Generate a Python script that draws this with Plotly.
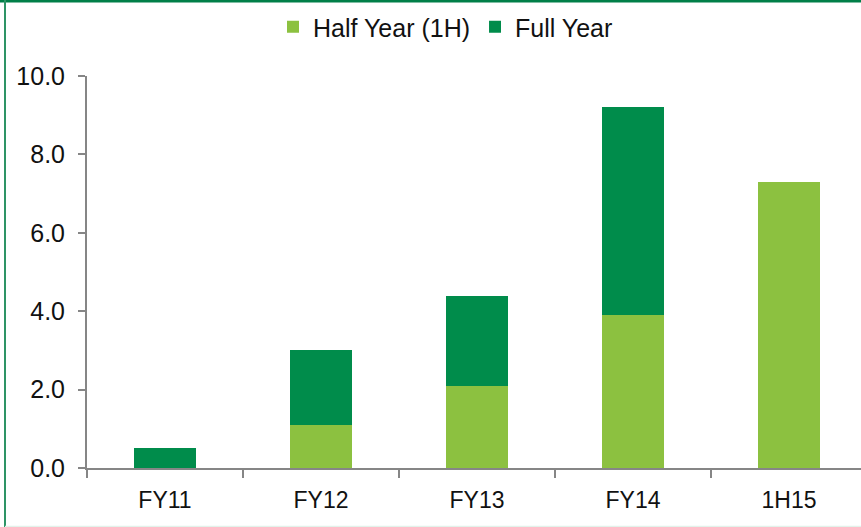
import plotly.graph_objects as go

categories = ["FY11", "FY12", "FY13", "FY14", "1H15"]
half_year = [0.0, 1.1, 2.1, 3.9, 7.3]
full_year_rest = [0.5, 1.9, 2.3, 5.3, 0.0]
y_ticks = [0, 2, 4, 6, 8, 10]
y_tick_labels = ["0.0", "2.0", "4.0", "6.0", "8.0", "10.0"]

LIGHT = "#8CC140"
DARK = "#008C4B"
AXIS = "#868686"
FONT = "Liberation Sans, Arial, sans-serif"

W, H = 861, 527
ML, MR, MT, MB = 87, 0, 76, 59
PW = W - ML - MR
PH = H - MT - MB

fig = go.Figure()
fig.add_trace(go.Bar(x=categories, y=half_year, name="Half Year (1H)",
                     marker=dict(color=LIGHT, line=dict(width=0))))
fig.add_trace(go.Bar(x=categories, y=full_year_rest, name="Full Year",
                     marker=dict(color=DARK, line=dict(width=0))))

def px_x(p):
    return (p - ML) / PW

def px_y(p):
    return (H - MB - p) / PH

shapes = [
    dict(type="line", xref="paper", yref="paper", x0=px_x(0), x1=px_x(W), y0=px_y(1), y1=px_y(1),
         line=dict(color="#007F48", width=3)),
    dict(type="line", xref="paper", yref="paper", x0=px_x(5), x1=px_x(5), y0=px_y(0), y1=px_y(H),
         line=dict(color="#2E9466", width=2)),
    dict(type="line", xref="paper", yref="paper", x0=px_x(5), x1=px_x(W), y0=px_y(526.5), y1=px_y(526.5),
         line=dict(color="#E3F2EA", width=1.5)),
]

fig.update_layout(
    width=W, height=H,
    margin=dict(l=ML, r=MR, t=MT, b=MB, pad=0),
    barmode="stack",
    bargap=0.6,
    plot_bgcolor="white",
    paper_bgcolor="white",
    font=dict(family=FONT, size=23, color="#111111"),
    showlegend=True,
    legend=dict(orientation="h", x=px_x(273), xanchor="left", y=px_y(27), yanchor="middle",
                font=dict(family=FONT, size=25, color="#111111"),
                traceorder="normal", itemwidth=30, bgcolor="rgba(0,0,0,0)"),
    shapes=shapes,
    xaxis=dict(range=[-0.5, -0.5 + PW / 156.0], showline=True, linecolor=AXIS, linewidth=2,
               ticks="outside", tickson="boundaries", ticklen=8, tickcolor=AXIS, tickwidth=1.5,
               showgrid=False, zeroline=False, ticklabelstandoff=10,
               tickfont=dict(family=FONT, size=23, color="#111111")),
    yaxis=dict(range=[0, 10], tickvals=y_ticks, ticktext=y_tick_labels, showline=True,
               linecolor=AXIS, linewidth=2, ticks="outside", ticklen=7, tickcolor=AXIS,
               tickwidth=1.5, showgrid=False, zeroline=False, ticklabelstandoff=8,
               tickfont=dict(family=FONT, size=25, color="#111111")),
)

fig.write_html("out.html", config={"displayModeBar": False},
               post_script="document.body.style.margin='0';document.body.style.overflow='hidden';")
